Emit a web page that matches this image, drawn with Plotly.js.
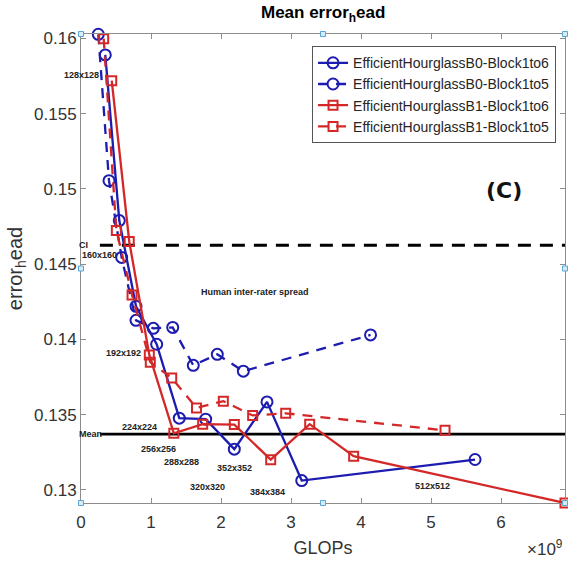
<!DOCTYPE html>
<html>
<head>
<meta charset="utf-8">
<script src="https://cdn.plot.ly/plotly-3.0.1.min.js"></script>
<style>html,body{margin:0;padding:0;background:#fff;}#chart{width:568px;height:563px;}</style>
</head>
<body>
<div id="chart"></div>
<script>
// ---- data (GLOPs in units of 1e9, error_head) ----
const seriesNames = ['EfficientHourglassB0-Block1to6','EfficientHourglassB0-Block1to5','EfficientHourglassB1-Block1to6','EfficientHourglassB1-Block1to5'];
const b0_1to6_x = [0.347, 0.547, 0.786, 1.081, 1.404, 1.781, 2.190, 2.657, 3.153, 5.629];
const b0_1to6_y = [0.15891, 0.14790, 0.14220, 0.13968, 0.13477, 0.13470, 0.13271, 0.13585, 0.13062, 0.13202];
const b0_1to5_x = [0.247, 0.400, 0.581, 0.786, 1.033, 1.310, 1.604, 1.947, 2.319, 4.136];
const b0_1to5_y = [0.16028, 0.15055, 0.14545, 0.14127, 0.14074, 0.14080, 0.13828, 0.13901, 0.13789, 0.14030];
const b1_1to6_x = [0.439, 0.689, 0.976, 1.326, 1.738, 2.190, 2.710, 3.267, 3.895, 6.914];
const b1_1to6_y = [0.15720, 0.14651, 0.13897, 0.13376, 0.13437, 0.13434, 0.13201, 0.13437, 0.13224, 0.12913];
const b1_1to5_x = [0.324, 0.505, 0.729, 0.990, 1.296, 1.650, 2.033, 2.452, 2.924, 5.200];
const b1_1to5_y = [0.15999, 0.14724, 0.14296, 0.13849, 0.13744, 0.13545, 0.13590, 0.13495, 0.13509, 0.13396];

const refLineX = [0.27, 6.914];
const ciValue = 0.14626;
const meanValue = 0.13371;

const resLabels = ['128x128','160x160','192x192','224x224','256x256','288x288','320x320','352x352','384x384','512x512'];
const resLabelX = [0.014, 0.264, 0.600, 0.829, 1.114, 1.433, 1.800, 2.186, 2.657, 5.024];
const resLabelY = [0.15758, 0.14564, 0.13913, 0.13415, 0.13271, 0.13183, 0.13021, 0.13145, 0.12984, 0.13024];

const xTicks = [0, 1, 2, 3, 4, 5, 6];
const yTicks = [0.13, 0.135, 0.14, 0.145, 0.15, 0.155, 0.16];
const yTickText = ['0.13', '0.135', '0.14', '0.145', '0.15', '0.155', '0.16'];

// ---- styles ----
const BLUE = '#1c1cb0';
const RED = '#d42828';
const FONT = 'Liberation Sans, Arial, sans-serif';

function series(x, y, name, color, dash, symbol, size) {
  return {
    x: x, y: y, name: name, type: 'scatter', mode: 'lines+markers', cliponaxis: false,
    line: {color: color, width: 2.3, dash: dash},
    marker: {symbol: symbol, size: size, color: color, line: {color: color, width: 2}}
  };
}

const traces = [
  {x: refLineX, y: [ciValue, ciValue], type: 'scatter', mode: 'lines', showlegend: false, hoverinfo: 'skip',
   line: {color: '#000', width: 2.8, dash: '13px,9px'}},
  {x: refLineX, y: [meanValue, meanValue], type: 'scatter', mode: 'lines', showlegend: false, hoverinfo: 'skip',
   line: {color: '#000', width: 2.8}},
  series(b0_1to6_x, b0_1to6_y, seriesNames[0], BLUE, 'solid', 'circle-open', 11),
  series(b0_1to5_x, b0_1to5_y, seriesNames[1], BLUE, '10px,8px', 'circle-open', 11),
  series(b1_1to6_x, b1_1to6_y, seriesNames[2], RED, 'solid', 'square-open', 9),
  series(b1_1to5_x, b1_1to5_y, seriesNames[3], RED, '10px,8px', 'square-open', 9)
];

const annotations = resLabels.map((t, i) => ({
  x: resLabelX[i], y: resLabelY[i], xref: 'x', yref: 'y', text: '<b>' + t + '</b>', showarrow: false,
  font: {family: FONT, size: 9, color: '#222'}, xanchor: 'center', yanchor: 'middle'
}));
annotations.push(
  {x: 0.029, y: ciValue, xref: 'x', yref: 'y', text: '<b>CI</b>', showarrow: false, font: {family: FONT, size: 9, color: '#222'}},
  {x: 0.136, y: meanValue, xref: 'x', yref: 'y', text: '<b>Mean</b>', showarrow: false, font: {family: FONT, size: 9, color: '#222'}},
  {x: 2.479, y: 0.14314, xref: 'x', yref: 'y', text: '<b>Human inter-rater spread</b>', showarrow: false, font: {family: FONT, size: 9, color: '#222'}},
  {x: 6.043, y: 0.14989, xref: 'x', yref: 'y', text: '<b>(C)</b>', showarrow: false, font: {family: 'DejaVu Sans, sans-serif', size: 22, color: '#111'}},
  {x: 1, y: -0.096, xref: 'paper', yref: 'paper', xanchor: 'right', yanchor: 'middle', text: '×10<sup>9</sup>', showarrow: false, font: {family: FONT, size: 17, color: '#333'}}
);

// selection handles around the axes box
const handlePos = [[0,0],[0.5,0],[1,0],[0,0.5],[1,0.5],[0,1],[0.5,1],[1,1]];
const shapes = handlePos.map(p => ({
  type: 'rect', xref: 'paper', yref: 'paper', xsizemode: 'pixel', ysizemode: 'pixel',
  xanchor: p[0], yanchor: p[1], x0: -2.5, x1: 2.5, y0: -2.5, y1: 2.5,
  line: {color: '#5aa5d6', width: 1}, fillcolor: '#d6ecf8', layer: 'above'
}));

const layout = {
  width: 568, height: 563,
  margin: {l: 81, r: 3, t: 34, b: 60},
  paper_bgcolor: '#fff', plot_bgcolor: '#fff',
  font: {family: FONT, color: '#333'},
  title: {text: '<b>Mean error<sub>h</sub>ead</b>', font: {family: FONT, size: 17, color: '#000'},
          x: 0.569, xanchor: 'center', y: 0.978, yanchor: 'middle'},
  xaxis: {
    range: [0, 6.914], tickvals: xTicks, ticks: 'inside', ticklen: 5, tickcolor: '#8c8c8c',
    showline: true, linecolor: '#8c8c8c', linewidth: 1, mirror: 'ticks', showgrid: false, zeroline: false,
    tickfont: {family: FONT, size: 17, color: '#333'}, ticklabelstandoff: 4,
    title: {text: 'GLOPs', font: {family: FONT, size: 18, color: '#333'}, standoff: 9}
  },
  yaxis: {
    range: [0.12913, 0.1603], tickvals: yTicks, ticktext: yTickText, ticks: 'inside', ticklen: 5, tickcolor: '#8c8c8c',
    showline: true, linecolor: '#8c8c8c', linewidth: 1, mirror: 'ticks', showgrid: false, zeroline: false,
    tickfont: {family: FONT, size: 17, color: '#333'},
    title: {text: 'error<sub>h</sub>ead', font: {family: FONT, size: 20, color: '#333'}, standoff: 6}
  },
  legend: {
    x: 0.9815, xanchor: 'right', y: 0.974, yanchor: 'top',
    bgcolor: '#fff', bordercolor: '#555', borderwidth: 1,
    font: {family: FONT, size: 14, color: '#262626'}, tracegroupgap: 0
  },
  annotations: annotations,
  shapes: shapes,
  showlegend: true
};

Plotly.newPlot('chart', traces, layout, {displayModeBar: false, staticPlot: true});
</script>
</body>
</html>
